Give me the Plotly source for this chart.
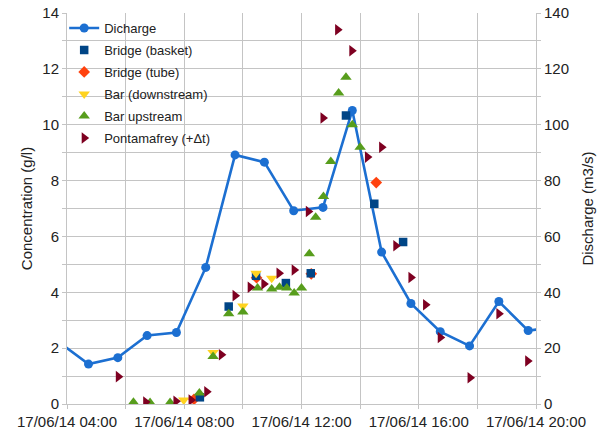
import plotly.graph_objects as go

DAY = "2014-06-17 "

# Discharge (m3/s), hourly
q_times = ["03:44", "04:44", "05:44", "06:44", "07:44", "08:44", "09:44", "10:44", "11:44",
           "12:44", "13:44", "14:44", "15:44", "16:44", "17:44", "18:44", "19:44", "20:44"]
q_values = [22.1, 14.3, 16.6, 24.5, 25.6, 48.9, 89.2, 86.6, 69.2,
            70.4, 105.1, 54.4, 36.0, 25.9, 20.8, 36.7, 26.3, 27.5]

# Bridge (basket)
bb_times = ["08:32", "09:31", "10:27", "11:28", "12:19", "13:31", "14:29", "15:28"]
bb_values = [0.24, 3.49, 4.59, 4.33, 4.68, 10.33, 7.17, 5.80]

# Bridge (tube)
bt_times = ["08:20", "10:28", "12:20", "14:33"]
bt_values = [0.17, 4.52, 4.66, 7.93]

# Bar (downstream)
bd_times = ["07:59", "08:59", "10:00", "10:27", "10:59"]
bd_values = [0.14, 1.84, 3.51, 4.68, 4.50]

# Bar upstream
bu_times = ["06:16", "06:50", "07:31", "08:31", "08:59", "09:31", "10:00", "10:30", "10:59",
            "11:15", "11:30", "11:45", "12:00", "12:16", "12:29", "12:45", "13:00", "13:16",
            "13:31", "13:44", "14:00"]
bu_values = [0.06, 0.05, 0.05, 0.39, 1.70, 3.23, 3.29, 4.15, 4.12,
             4.18, 4.15, 3.97, 4.15, 5.38, 6.69, 7.43, 8.68, 11.14,
             11.70, 10.00, 9.19]

# Pontamafrey (+Δt)
pm_times = ["05:45", "06:41", "07:43", "08:14", "08:46", "09:16", "09:44", "10:15", "10:43",
            "11:14", "11:45", "12:14", "12:44", "13:14", "13:43", "14:15", "14:44", "15:13",
            "15:44", "16:14", "16:44", "17:45", "18:44", "19:43"]
pm_values = [0.98, 0.07, 0.10, 0.14, 0.44, 1.76, 3.88, 4.18, 4.30,
             4.68, 4.80, 6.89, 10.24, 13.40, 12.65, 8.84, 9.19, 5.67,
             4.53, 3.55, 2.38, 0.94, 3.23, 1.54]


def ts(lst):
    return [DAY + t for t in lst]


legend_names = ["legend", "legend2", "legend3", "legend4", "legend5", "legend6"]

fig = go.Figure()
fig.add_trace(go.Scatter(x=ts(q_times), y=q_values, name="Dicharge", mode="lines+markers",
                         line=dict(color="#1c6fd1", width=2.6),
                         marker=dict(symbol="circle", size=9, color="#1c6fd1"),
                         yaxis="y", legend=legend_names[0]))
# tube drawn first so the basket squares sit on top of it
fig.add_trace(go.Scatter(x=ts(bt_times), y=bt_values, name="Bridge (tube)", mode="markers",
                         marker=dict(symbol="diamond", size=9, color="#ff420e"), yaxis="y2",
                         legend=legend_names[2]))
fig.add_trace(go.Scatter(x=ts(bb_times), y=bb_values, name="Bridge (basket)", mode="markers",
                         marker=dict(symbol="square", size=8.5, color="#004586"), yaxis="y2",
                         legend=legend_names[1]))
fig.add_trace(go.Scatter(x=ts(bd_times), y=bd_values, name="Bar (downstream)", mode="markers",
                         marker=dict(symbol="triangle-down", size=10, color="#ffd320"), yaxis="y2",
                         legend=legend_names[3]))
fig.add_trace(go.Scatter(x=ts(bu_times), y=bu_values, name="Bar upstream", mode="markers",
                         marker=dict(symbol="triangle-up", size=10, color="#579d1c"), yaxis="y2",
                         legend=legend_names[4]))
fig.add_trace(go.Scatter(x=ts(pm_times), y=pm_values, name="Pontamafrey (+Δt)", mode="markers",
                         marker=dict(symbol="triangle-right", size=10, color="#7e0021"), yaxis="y2",
                         legend=legend_names[5]))

grid = "#c4c4c4"
font_family = "Liberation Sans, Arial, sans-serif"
H = 3600 * 1000
FIG_W, FIG_H = 609, 434
M_L, M_R, M_T, M_B = 67, 73, 13, 30
plot_h = FIG_H - M_T - M_B

legend_layout = {}
for i, ln in enumerate(legend_names):
    legend_layout[ln] = dict(x=-0.006, y=1 - (22 * i) / plot_h, xanchor="left", yanchor="top",
                             bgcolor="rgba(0,0,0,0)", font=dict(size=13, color="#222222"))

fig.update_layout(
    width=FIG_W, height=FIG_H,
    margin=dict(l=M_L, r=M_R, t=M_T, b=M_B),
    paper_bgcolor="white", plot_bgcolor="white",
    font=dict(family=font_family, size=15, color="#222222"),
    showlegend=True,
    xaxis=dict(type="date", range=[DAY + "04:00", DAY + "20:00"], automargin=False,
               tick0=DAY + "00:00", dtick=4 * H, tickformat="%d/%m/%y %H:%M",
               ticklabeloverflow="allow",
               showgrid=True, gridcolor=grid, gridwidth=1,
               ticks="outside", ticklen=4, tickcolor=grid,
               minor=dict(dtick=2 * H, showgrid=True, gridcolor=grid, ticks="outside",
                          ticklen=4, tickcolor=grid),
               showline=True, linecolor=grid, zeroline=False,
               tickfont=dict(size=15)),
    yaxis=dict(title=dict(text="Discharge (m3/s)", font=dict(size=15), standoff=14),
               side="right", range=[0, 140], dtick=20, automargin=False,
               ticklabeloverflow="allow",
               showgrid=True, gridcolor=grid,
               minor=dict(dtick=10, showgrid=True, gridcolor=grid, ticks="outside",
                          ticklen=4, tickcolor=grid),
               ticks="outside", ticklen=4, tickcolor=grid,
               showline=True, linecolor=grid, zeroline=False, tickfont=dict(size=15)),
    yaxis2=dict(title=dict(text="Concentration (g/l)", font=dict(size=15), standoff=6),
                side="left", overlaying="y", range=[0, 14], dtick=2, automargin=False,
                ticklabeloverflow="allow",
                showgrid=False,
                ticks="outside", ticklen=4, tickcolor=grid,
                minor=dict(dtick=1, ticks="outside", ticklen=4, tickcolor=grid),
                showline=True, linecolor=grid, zeroline=False, tickfont=dict(size=15)),
    **legend_layout,
)

# remove the default 8px page margin so the figure fills the window exactly
fig.write_html("out.html", config={"displayModeBar": False},
               post_script="document.body.style.margin='0';")
